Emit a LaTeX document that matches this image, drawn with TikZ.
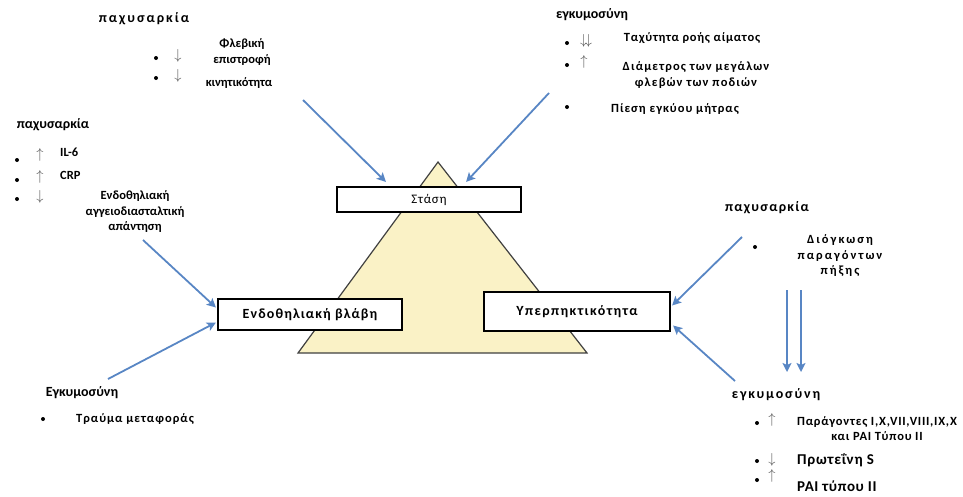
\documentclass[tikz,border=0pt]{standalone}
\usepackage{fontspec}
\setmainfont{Carlito}
\usetikzlibrary{arrows.meta}
\definecolor{flowblue}{RGB}{88,134,196}
\definecolor{triyellow}{RGB}{250,242,198}
\definecolor{markgray}{RGB}{85,85,85}
\tikzset{
  hd/.style={font=\bfseries\fontsize{14}{16}\selectfont\addfontfeature{LetterSpace=#1}, inner sep=0pt},
  hd/.default=0,
  txt/.style={font=\bfseries\fontsize{12.5}{15.5}\selectfont\addfontfeature{LetterSpace=#1}, inner sep=0pt, align=center},
  txt/.default=0,
  boxed/.style={draw=black, line width=2.2pt, fill=white, inner sep=0pt},
  flow/.style={draw=flowblue, line width=1.8pt, -{Stealth[length=9pt,width=9pt,inset=2pt]}},
  dot/.style={circle, fill=black, inner sep=0pt, minimum size=4pt},
  trendsym/.style={text=markgray, inner sep=0pt, font=\fontsize{15}{15}\selectfont},
}
\begin{document}
\begin{tikzpicture}[x=1pt,y=-1pt]
\useasboundingbox (0,0) rectangle (963,496);
% triangle
\coordinate (apex) at (438,162);
\coordinate (bl) at (298,353);
\coordinate (br) at (587,353);
\draw[fill=triyellow, draw=black!75, line width=1.2pt] (bl) -- (apex) -- (br) -- cycle;
% boxes
\node[boxed, minimum width=184pt, minimum height=25pt, font=\fontsize{13}{13}\selectfont\addfontfeature{LetterSpace=6}] (stasi) at (429,199.5) {Στάση};
\node[boxed, minimum width=184pt, minimum height=31pt, font=\bfseries\fontsize{14}{14}\selectfont\addfontfeature{LetterSpace=8}] (vlavi) at (310,314.5) {Ενδοθηλιακή βλάβη};
\node[boxed, minimum width=186pt, minimum height=39pt, font=\bfseries\fontsize{14}{14}\selectfont\addfontfeature{LetterSpace=10}] (yper) at (577,311.5) {Υπερπηκτικότητα};
% top left
\node[hd=14] (pax1) at (144,19) {παχυσαρκία};
\node[dot] (d11) at (156,58) {};
\node[dot] (d12) at (156,78) {};
\node[trendsym] (m11) at (178,56) {$\downarrow$};
\node[trendsym] (m12) at (178,76) {$\downarrow$};
\node[txt] (fleb) at (242,52) {Φλεβική\\επιστροφή};
\node[txt] (kin) at (239,83) {κινητικότητα};
% top right
\node[hd] (egk1) at (592,15) {εγκυμοσύνη};
\node[dot] (d21) at (567,43) {};
\node[dot] (d22) at (567,65) {};
\node[dot] (d23) at (567,107) {};
\node[trendsym] (m21) at (586,41) {$\downarrow\!\downarrow$};
\node[trendsym] (m22) at (584,62) {$\uparrow$};
\node[txt=6] (tax) at (692,38) {Ταχύτητα ροής αίματος};
\node[txt=9] (diam) at (696,75) {Διάμετρος των μεγάλων\\φλεβών των ποδιών};
\node[txt=8] (pies) at (675,109) {Πίεση εγκύου μήτρας};
% left
\node[hd] (pax2) at (53,125) {παχυσαρκία};
\node[dot] (d31) at (17,160) {};
\node[dot] (d32) at (17,180) {};
\node[dot] (d33) at (17,199) {};
\node[trendsym] (m31) at (40,155) {$\uparrow$};
\node[trendsym] (m32) at (40,177) {$\uparrow$};
\node[trendsym] (m33) at (40,197) {$\downarrow$};
\node[txt, anchor=west] (il6) at (60,152) {IL-6};
\node[txt, anchor=west] (crp) at (60,175) {CRP};
\node[txt] (endo) at (135,212) {Ενδοθηλιακή\\αγγειοδιασταλτική\\απάντηση};
% bottom left
\node[hd] (egk2) at (82,393) {Εγκυμοσύνη};
\node[dot] (d41) at (43,419) {};
\node[txt=8] (trauma) at (135,419) {Τραύμα μεταφοράς};
% right
\node[hd=9] (pax3) at (767,208) {παχυσαρκία};
\node[dot] (d51) at (755,247) {};
\node[txt=16] (diog) at (840,256) {Διόγκωση\\παραγόντων\\πήξης};
% bottom right
\node[hd=13] (egk3) at (776,395) {εγκυμοσύνη};
\node[dot] (d61) at (757,423) {};
\node[dot] (d62) at (757,461) {};
\node[dot] (d63) at (757,480) {};
\node[trendsym] (m61) at (772,420) {$\uparrow$};
\node[trendsym] (m62) at (772,460) {$\downarrow$};
\node[trendsym] (m63) at (772,476) {$\uparrow$};
\node[txt=6] (parag) at (877,428.5) {Παράγοντες I,X,VII,VIII,IX,X\\και PAI Τύπου II};
\node[anchor=west, inner sep=0pt, font=\bfseries\fontsize{15}{15}\selectfont\addfontfeature{LetterSpace=5}] (prot) at (797,460) {Πρωτεΐνη S};
\node[anchor=west, inner sep=0pt, font=\bfseries\fontsize{15}{15}\selectfont\addfontfeature{LetterSpace=4}] (pai) at (797,486) {PAI τύπου II};
% arrows
\coordinate (s1) at (303,100);
\coordinate (s2) at (549,93);
\coordinate (s3) at (143,240);
\coordinate (s4) at (108,379);
\coordinate (s5) at (742,237);
\coordinate (s6) at (735,381);
\coordinate (s7) at (787,290);
\coordinate (e7) at (787,372);
\coordinate (s8) at (801,290);
\coordinate (e8) at (801,372);
\draw[flow] (s1) -- ([xshift=50pt,yshift=4pt]stasi.north west);
\draw[flow] (s2) -- ([xshift=-56pt,yshift=4pt]stasi.north east);
\draw[flow] (s3) -- ([xshift=-1pt,yshift=7pt]vlavi.west);
\draw[flow] (s4) -- ([xshift=-1pt,yshift=-8pt]vlavi.west);
\draw[flow] (s5) -- ([xshift=1pt,yshift=6pt]yper.east);
\draw[flow] (s6) -- ([xshift=2pt,yshift=-14pt]yper.east);
\draw[flow] (s7) -- (e7);
\draw[flow] (s8) -- (e8);
\end{tikzpicture}
\end{document}
